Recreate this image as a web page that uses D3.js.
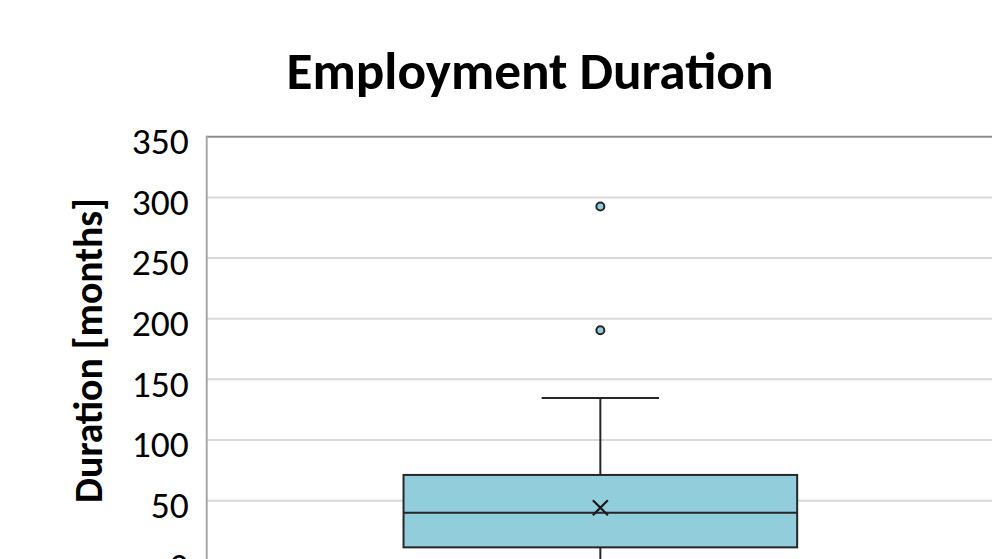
<!DOCTYPE html>
<html>
<head>
<meta charset="utf-8">
<script src="https://cdn.jsdelivr.net/npm/d3@7"></script>
<style>
  html, body { margin: 0; padding: 0; background: #fff; overflow: hidden; }
  svg { display: block; }
  text { font-family: Carlito, Calibri, Lato, "Open Sans", sans-serif; fill: #000; }
</style>
</head>
<body>
<svg id="chart" width="992" height="559"></svg>
<script>
// Employment duration summary (months)
const categories = ["Employment"];
const whiskerLow = [0];
const q1 = [11.5];
const median = [40];
const q3 = [71.2];
const whiskerHigh = [134.6];
const mean = [44.2];
const outliers = [[190.5, 292.5]];
const yTicks = [0, 50, 100, 150, 200, 250, 300, 350];

const svg = d3.select("#chart");
const W = 992, H = 559;
const margin = { left: 206.7, right: -2, top: 136.8, bottom: -2.3 };

const x = d3.scaleBand()
  .domain(categories)
  .range([margin.left, W - margin.right])
  .paddingInner(0).paddingOuter(0);

const y = d3.scaleLinear()
  .domain([0, 350])
  .range([H - margin.bottom, margin.top]);

// fit a text node to a target width by rescaling its font size
function fitWidth(sel, target) {
  const node = sel.node();
  const fs = parseFloat(sel.attr("font-size"));
  const w = node.getComputedTextLength();
  if (w > 0) sel.attr("font-size", fs * target / w);
}

// gridlines
svg.append("g")
  .selectAll("line")
  .data(yTicks.filter(d => d > 0 && d < 350))
  .join("line")
  .attr("x1", margin.left).attr("x2", W)
  .attr("y1", d => y(d)).attr("y2", d => y(d))
  .attr("stroke", "#d9d9d9").attr("stroke-width", 2);

// plot frame: top and left edges
svg.append("line")
  .attr("x1", margin.left).attr("x2", W)
  .attr("y1", y(350)).attr("y2", y(350))
  .attr("stroke", "#8c8c8c").attr("stroke-width", 2);
svg.append("line")
  .attr("x1", margin.left).attr("x2", margin.left)
  .attr("y1", y(350) - 1).attr("y2", H)
  .attr("stroke", "#a6a6a6").attr("stroke-width", 2);

// y axis tick labels
const yAxis = d3.axisLeft(y).tickValues(yTicks).tickSize(0).tickPadding(18);
const gy = svg.append("g")
  .attr("transform", `translate(${margin.left},0)`)
  .call(yAxis);
gy.select(".domain").remove();
gy.selectAll("text")
  .attr("font-size", 36)
  .attr("fill", "#000")
  .attr("dy", "0.45em")
  .style("font-family", "Carlito, Calibri, Lato, 'Open Sans', sans-serif");
const sample = gy.selectAll("text").filter(d => d === 350);
const fs0 = 36 * 57 / sample.node().getComputedTextLength();
gy.selectAll("text").attr("font-size", fs0);

// title
const title = svg.append("text")
  .attr("x", 530).attr("y", 89.3)
  .attr("text-anchor", "middle")
  .attr("font-weight", "bold")
  .attr("font-size", 48)
  .text("Employment Duration");
fitWidth(title, 487);

// y axis title
const yTitle = svg.append("text")
  .attr("transform", "translate(101.5,350.5) rotate(-90)")
  .attr("text-anchor", "middle")
  .attr("font-weight", "bold")
  .attr("font-size", 36)
  .text("Duration [months]");
fitWidth(yTitle, 305);

// box plot
const g = svg.append("g");
categories.forEach((c, i) => {
  const cx = x(c) + x.bandwidth() / 2;
  const boxW = x.bandwidth() * 0.5;
  const capW = x.bandwidth() * 0.149;
  const stroke = "#262626";

  // whiskers
  g.append("line")
    .attr("x1", cx).attr("x2", cx)
    .attr("y1", y(q3[i])).attr("y2", y(whiskerHigh[i]))
    .attr("stroke", stroke).attr("stroke-width", 2);
  g.append("line")
    .attr("x1", cx - capW / 2).attr("x2", cx + capW / 2)
    .attr("y1", y(whiskerHigh[i])).attr("y2", y(whiskerHigh[i]))
    .attr("stroke", stroke).attr("stroke-width", 2);
  g.append("line")
    .attr("x1", cx).attr("x2", cx)
    .attr("y1", y(q1[i])).attr("y2", y(whiskerLow[i]))
    .attr("stroke", stroke).attr("stroke-width", 2);
  g.append("line")
    .attr("x1", cx - capW / 2).attr("x2", cx + capW / 2)
    .attr("y1", y(whiskerLow[i])).attr("y2", y(whiskerLow[i]))
    .attr("stroke", stroke).attr("stroke-width", 2);

  // box
  g.append("rect")
    .attr("x", cx - boxW / 2).attr("width", boxW)
    .attr("y", y(q3[i])).attr("height", y(q1[i]) - y(q3[i]))
    .attr("fill", "#92cddc")
    .attr("stroke", stroke).attr("stroke-width", 2);

  // median
  g.append("line")
    .attr("x1", cx - boxW / 2).attr("x2", cx + boxW / 2)
    .attr("y1", y(median[i])).attr("y2", y(median[i]))
    .attr("stroke", stroke).attr("stroke-width", 2);

  // mean marker
  const m = 7.5, my = y(mean[i]);
  g.append("path")
    .attr("d", `M${cx - m},${my - m}L${cx + m},${my + m}M${cx - m},${my + m}L${cx + m},${my - m}`)
    .attr("stroke", "#1a1a1a").attr("stroke-width", 2.2).attr("fill", "none");

  // outliers
  g.selectAll(null)
    .data(outliers[i])
    .join("circle")
    .attr("cx", cx).attr("cy", d => y(d))
    .attr("r", 4)
    .attr("fill", "#92cddc")
    .attr("stroke", stroke).attr("stroke-width", 2);
});
</script>
</body>
</html>
